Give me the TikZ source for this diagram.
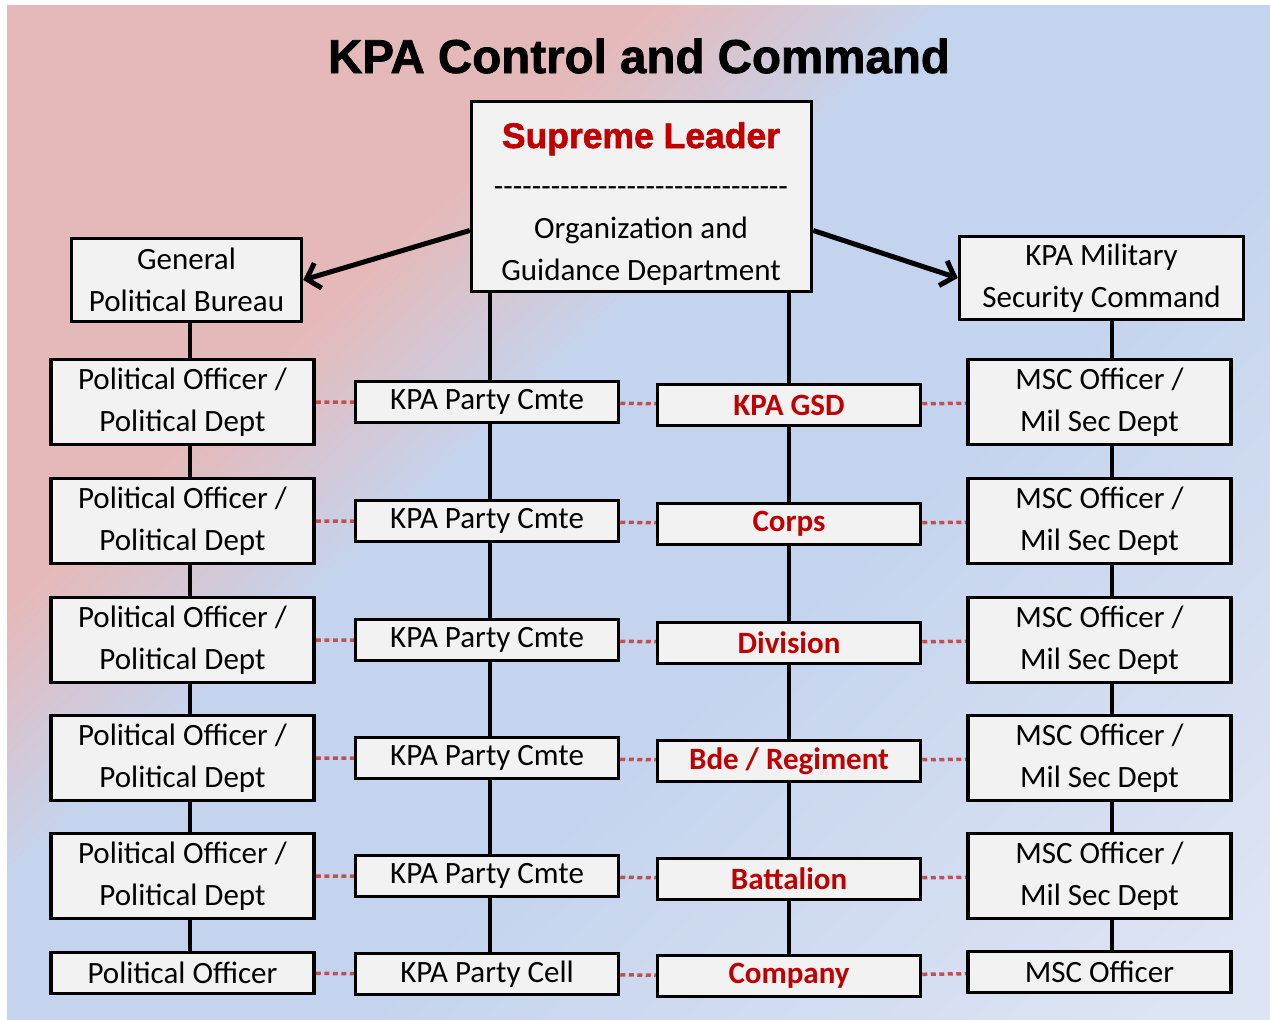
\documentclass[tikz,border=0pt]{standalone}
\usepackage{fontspec}
\setmainfont{Carlito}
\newfontfamily\headfont[FakeBold=1.6]{Liberation Sans Bold}
\newfontfamily\dashfont{Carlito}
\usetikzlibrary{arrows.meta,backgrounds}
\pgfdeclarelayer{back}
\pgfsetlayers{back,background,main}

\definecolor{bgpink}{HTML}{E5B9B9}
\definecolor{bgblue}{HTML}{C5D4EE}
\definecolor{bglight}{HTML}{DDE4F3}
\definecolor{boxgray}{HTML}{F2F2F2}
\definecolor{krred}{HTML}{C00000}
\definecolor{dotred}{HTML}{C0504D}

\pgfdeclarehorizontalshading{sfondo}{100bp}{color(0bp)=(bgpink); color(34bp)=(bgpink); color(43bp)=(bgblue); color(58bp)=(bgblue); color(82bp)=(bglight); color(100bp)=(bglight)}

\tikzset{
  box/.style={draw, line width=3.5pt, fill=boxgray, minimum width=263pt, inner sep=0pt,
    align=center, font=\fontsize{31}{42}\selectfont},
  doppio/.style={box, minimum height=85pt},
  singolo/.style={box, minimum height=41pt},
  rosso/.style={singolo, text=krred, font=\bfseries\fontsize{31}{42}\selectfont},
  link/.style={line width=4pt},
  puntini/.style={draw=dotred, line width=3.5pt, dash pattern=on 5pt off 3.5pt},
  freccia/.style={line width=5pt, -{Straight Barb[length=12pt,width=26pt]}}
}

\begin{document}
\begin{tikzpicture}[x=1pt,y=-1pt]
        \useasboundingbox (0,0) rectangle (1270,1020);
        \begin{pgfonlayer}{back}
          \shade[shading=sfondo, shading angle=-47] (7,5) rectangle (1270,1020);
        \end{pgfonlayer}

        % Titolo
        \node[font=\headfont\fontsize{47.5}{47.5}\selectfont, anchor=base](titolo) at (639,73) {KPA Control and Command};

        % Vertice
        \node[box, minimum width=340pt, minimum height=190pt](sup) at (641.5,196.5) {};
        \node[font=\headfont\fontsize{35.5}{35.5}\selectfont, text=krred, anchor=base](sl) at (641,148) {Supreme Leader};
        \node[font=\dashfont\fontsize{31}{31}\selectfont, anchor=base](sep) at (641,196) {-------------------------------};
        \node[font=\fontsize{31}{42}\selectfont, align=center](ogd) at (641,251) {Organization and\\Guidance Department};

        % Comandi laterali
        \node[box, minimum width=230pt, minimum height=83pt](gpb) at (186.5,280) {General\\Political Bureau};
        \node[box, minimum width=284pt, minimum height=83pt](msc) at (1101.5,278) {KPA Military\\Security Command};

        % Colonna politica
        \node[doppio](po1) at (182.5,402) {Political Officer /\\Political Dept};
        \node[doppio](po2) at (182.5,521) {Political Officer /\\Political Dept};
        \node[doppio](po3) at (182.5,640) {Political Officer /\\Political Dept};
        \node[doppio](po4) at (182.5,758) {Political Officer /\\Political Dept};
        \node[doppio](po5) at (182.5,876) {Political Officer /\\Political Dept};
        \node[singolo](po6) at (182.5,973) {Political Officer};

        % Colonna del partito
        \node[singolo](pc1) at (487,402) {KPA Party Cmte};
        \node[singolo](pc2) at (487,521) {KPA Party Cmte};
        \node[singolo](pc3) at (487,640) {KPA Party Cmte};
        \node[singolo](pc4) at (487,758) {KPA Party Cmte};
        \node[singolo](pc5) at (487,876) {KPA Party Cmte};
        \node[singolo](pc6) at (487,974) {KPA Party Cell};

        % Colonna delle unita
        \node[rosso](u1) at (789,405) {KPA GSD};
        \node[rosso](u2) at (789,524) {Corps};
        \node[rosso](u3) at (789,643) {Division};
        \node[rosso](u4) at (789,761) {Bde / Regiment};
        \node[rosso](u5) at (789,879) {Battalion};
        \node[rosso](u6) at (789,976) {Company};

        % Colonna sicurezza
        \node[doppio](ms1) at (1099.5,402) {MSC Officer /\\Mil Sec Dept};
        \node[doppio](ms2) at (1099.5,521) {MSC Officer /\\Mil Sec Dept};
        \node[doppio](ms3) at (1099.5,640) {MSC Officer /\\Mil Sec Dept};
        \node[doppio](ms4) at (1099.5,758) {MSC Officer /\\Mil Sec Dept};
        \node[doppio](ms5) at (1099.5,876) {MSC Officer /\\Mil Sec Dept};
        \node[singolo](ms6) at (1099.5,972) {MSC Officer};

        % Frecce dal vertice
        \draw[freccia] ([yshift=-34pt]sup.west) -- (gpb.east);
        \draw[freccia] ([yshift=-34pt]sup.east) -- (msc.west);

        \begin{pgfonlayer}{background}
          % Collegamenti verticali
          \draw[link] ([xshift=3pt]gpb.south) -- ([xshift=3pt]gpb.south |- po6.north);
          \draw[link] ([xshift=3pt]pc1 |- sup.south) -- ([xshift=3pt]pc6.north);
          \draw[link] (u1 |- sup.south) -- (u6);
          \draw[link] ([xshift=10pt]msc.south) -- ([xshift=10pt]msc.south |- ms6.north);

          % Collegamenti tratteggiati
          \draw[puntini] (po1) -- (pc1) -- (u1) -- (ms1);
          \draw[puntini] (po2) -- (pc2) -- (u2) -- (ms2);
          \draw[puntini] (po3) -- (pc3) -- (u3) -- (ms3);
          \draw[puntini] (po4) -- (pc4) -- (u4) -- (ms4);
          \draw[puntini] (po5) -- (pc5) -- (u5) -- (ms5);
          \draw[puntini] (po6) -- (pc6) -- (u6) -- (ms6);
        \end{pgfonlayer}
    \end{tikzpicture}
\end{document}
